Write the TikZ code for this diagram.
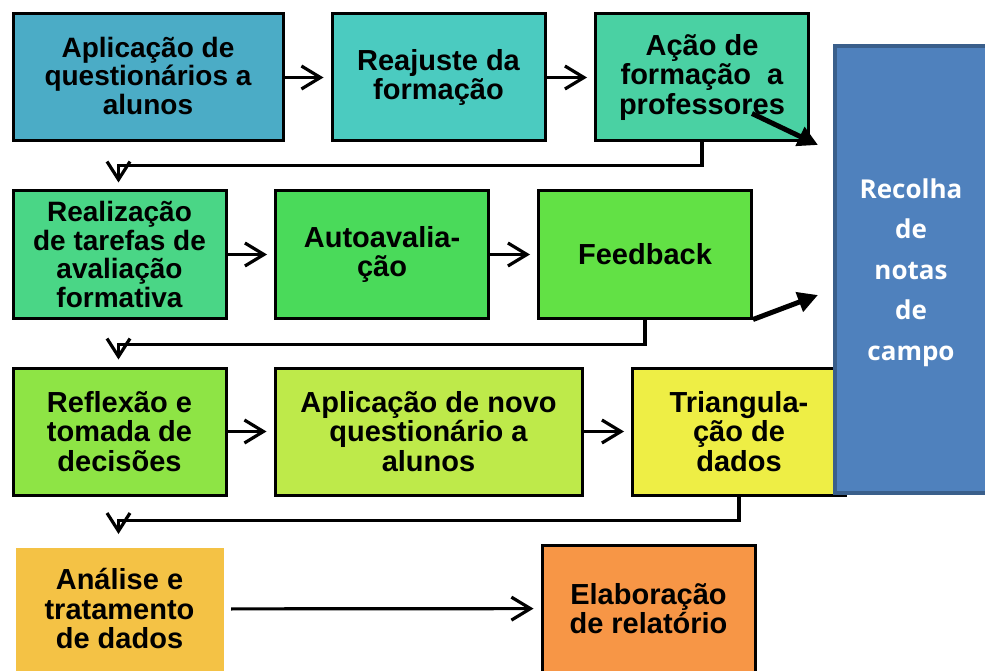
\documentclass[tikz,border=0pt]{standalone}
\usepackage{fontspec}
\setmainfont{Liberation Sans}
\newfontfamily\notesfont{Open Sans}
\usepackage{tikz}
\usetikzlibrary{arrows, arrows.meta}

\definecolor{aquabox}{HTML}{4BACC6}
\definecolor{tealbox}{HTML}{4BCBC0}
\definecolor{mintbox}{HTML}{4AD1A3}
\definecolor{jadebox}{HTML}{4AD686}
\definecolor{greenbox}{HTML}{4ADA5A}
\definecolor{limebox}{HTML}{62E145}
\definecolor{grassbox}{HTML}{8EE445}
\definecolor{applebox}{HTML}{BEEA4A}
\definecolor{yellowbox}{HTML}{EEEE45}
\definecolor{goldbox}{HTML}{F4C245}
\definecolor{orangebox}{HTML}{F79646}
\definecolor{notesblue}{HTML}{4F81BD}
\definecolor{notesedge}{HTML}{3A5F8B}

\tikzstyle{process} = [rectangle, 
minimum width=213pt, 
minimum height=127pt, 
text centered, 
align=center, 
inner sep=0pt, 
line width=3pt, 
draw=black, 
font=\bfseries\fontsize{29}{29.5}\selectfont]
\tikzstyle{smalltext} = [font=\bfseries\fontsize{28}{28.5}\selectfont]
\tikzstyle{notes} = [rectangle, 
minimum width=152pt, 
minimum height=447pt, 
align=center, 
inner sep=0pt, 
text depth=0pt, 
line width=4pt, 
draw=notesedge, 
fill=notesblue, 
text=white, 
font=\notesfont\bfseries\fontsize{26}{40.5}\selectfont]
\tikzstyle{arrow} = [line width=3.2pt, -{Straight Barb[length=19pt,width=23pt]}, shorten >=7pt]
\tikzstyle{loopback} = [line width=3.2pt, -{Straight Barb[length=18pt,width=23pt]}]
\tikzstyle{bigarrow} = [line width=5pt, -{Triangle[length=20pt,width=20pt]}]

\begin{document}
\begin{tikzpicture}[node distance=177pt]
\useasboundingbox (0,0) rectangle (985pt,-671pt);

\node (quest) [process, smalltext, fill=aquabox, minimum width=270pt, text depth=4pt] at (148pt,-77.5pt) {Aplicação de\\questionários a\\alunos};
\node (reaj) [process, fill=tealbox, right of=quest, xshift=113.5pt] {Reajuste da\\formação};
\node (acao) [process, fill=mintbox, right of=reaj, xshift=86.5pt] {Ação de\\formação\ \ a\\professores};

\node (tarefas) [process, smalltext, fill=jadebox, below of=quest, xshift=-28.5pt] {Realização\\de tarefas de\\avaliação\\formativa};
\node (auto) [process, fill=greenbox, right of=tarefas, xshift=85.5pt] {Autoavalia-\\ção};
\node (feed) [process, fill=limebox, right of=auto, xshift=86pt] {Feedback};

\node (refl) [process, fill=grassbox, below of=tarefas] {Reflexão e\\tomada de\\decisões};
\node (novo) [process, fill=applebox, minimum width=307pt, right of=refl, xshift=132pt] {Aplicação de novo\\questionário a\\alunos};
\node (triang) [process, fill=yellowbox, right of=novo, xshift=133.5pt] {Triangula-\\ção de\\dados};

\node (analise) [process, fill=goldbox, draw=none, minimum width=208pt, minimum height=123pt, below of=refl, yshift=-0.5pt] {Análise e\\tratamento\\de dados};
\node (relat) [process, fill=orangebox, right of=analise, xshift=352pt, yshift=0.5pt] {Elaboração\\de relatório};

\node (notas) [notes, right of=acao, xshift=32pt, yshift=-192pt] {Recolha\\de\\notas\\de\\campo};

\draw [arrow] (quest) -- (reaj);
\draw [arrow] (reaj) -- (acao);
\draw [arrow] (tarefas) -- (auto);
\draw [arrow] (auto) -- (feed);
\draw [arrow] (refl) -- (novo);
\draw [arrow] (novo) -- (triang);
\draw [arrow, shorten <=6pt] (analise) -- (relat);

\draw [loopback] (acao.south) -- ++(0,-23pt) -| ([xshift=-1pt,yshift=7pt]tarefas.north);
\draw [loopback] (feed.south) -- ++(0,-25pt) -| ([xshift=-1pt,yshift=7pt]refl.north);
\draw [loopback] (triang.south) -- ++(0,-24pt) -| ([xshift=-1pt,yshift=12pt]analise.north);

\draw [bigarrow] ([xshift=-58pt,yshift=29pt]acao.south east) -- ([xshift=-15pt,yshift=-101pt]notas.north west);
\draw [bigarrow] (feed.south east) -- ([xshift=-15pt,yshift=-251pt]notas.north west);

\end{tikzpicture}
\end{document}
